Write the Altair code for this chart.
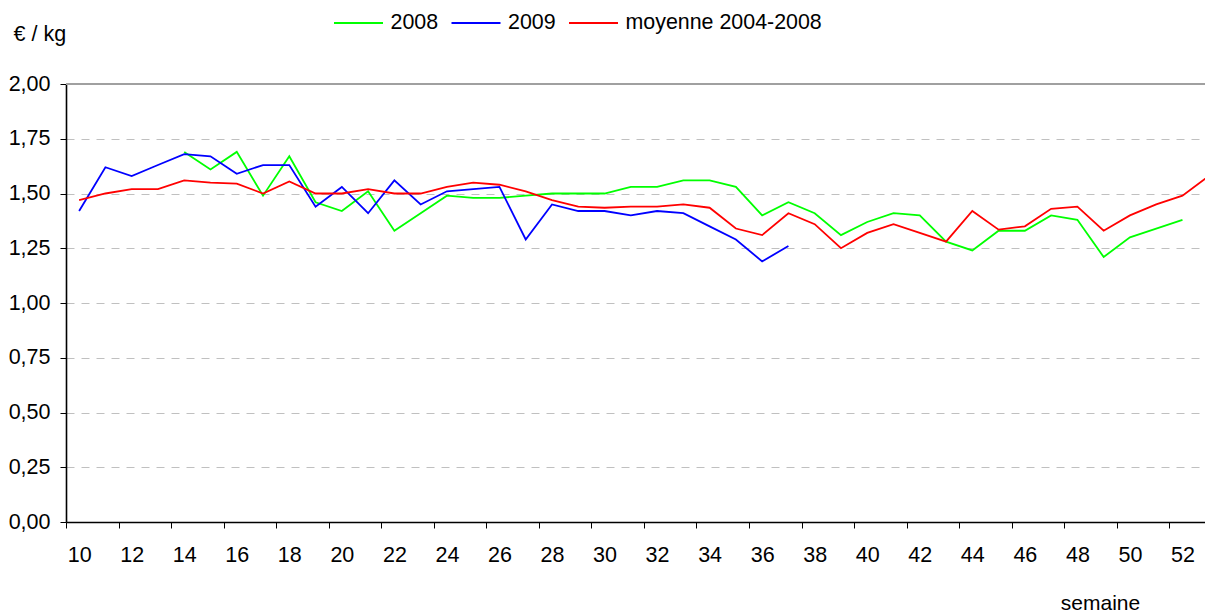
import altair as alt
import pandas as pd

# ---- data ----
weeks = list(range(10, 54))
v2008 = [None] * 4 + [
    1.69, 1.61, 1.69, 1.49, 1.67, 1.46, 1.42, 1.51, 1.33, 1.41,
    1.49, 1.48, 1.48, 1.49, 1.50, 1.50, 1.50, 1.53, 1.53, 1.56,
    1.56, 1.53, 1.40, 1.46, 1.41, 1.31, 1.37, 1.41, 1.40, 1.28,
    1.24, 1.33, 1.33, 1.40, 1.38, 1.21, 1.30, 1.34, 1.38,
] + [None]
v2009 = [
    1.42, 1.62, 1.58, 1.63, 1.68, 1.67, 1.59, 1.63, 1.63, 1.44,
    1.53, 1.41, 1.56, 1.45, 1.51, 1.52, 1.53, 1.29, 1.45, 1.42,
    1.42, 1.40, 1.42, 1.41, 1.35, 1.29, 1.19, 1.26,
] + [None] * 16
vmoy = [
    1.47, 1.50, 1.52, 1.52, 1.56, 1.55, 1.545, 1.50, 1.555, 1.50,
    1.50, 1.52, 1.50, 1.50, 1.53, 1.55, 1.54, 1.51, 1.47, 1.44,
    1.435, 1.44, 1.44, 1.45, 1.435, 1.34, 1.31, 1.41, 1.36, 1.25,
    1.32, 1.36, 1.32, 1.28, 1.42, 1.335, 1.35, 1.43, 1.44, 1.33,
    1.40, 1.45, 1.49, 1.58,
]
series_names = ["2008", "2009", "moyenne 2004-2008"]
series_colors = ["#00ff00", "#0000ff", "#ff0000"]
y_ticks = [0, 0.25, 0.5, 0.75, 1.0, 1.25, 1.5, 1.75, 2.0]
x_ticks = [9.5 + 2 * i for i in range(22)]
top_line = [2.0]

rows = []
for name, vals in zip(series_names, [v2008, v2009, vmoy]):
    for w, v in zip(weeks, vals):
        if v is not None:
            rows.append({"semaine": w, "prix": v, "serie": name})
df = pd.DataFrame(rows)

FONT = "Liberation Sans"
CAT = 26.27          # pixels per week
W = 1139
H = 438

x_scale = alt.Scale(domain=[9.5, 9.5 + W / CAT], nice=False, zero=False)
y_scale = alt.Scale(domain=[0, 2], nice=False, zero=True)

lines = alt.Chart(df).mark_line(strokeWidth=1.8, clip=False).encode(
    x=alt.X(
        "semaine:Q",
        scale=x_scale,
        axis=alt.Axis(
            values=x_ticks,
            labelExpr="toString(datum.value + 0.5)",
            labelOffset=CAT / 2,
            labelFlush=False,
            labelOverlap=False,
            labelBaseline="alphabetic",
            labelPadding=33,
            tickSize=6,
            tickColor="#000000",
            tickWidth=1,
            domainColor="#000000",
            domainWidth=1.4,
            grid=False,
            labelFont=FONT,
            labelFontSize=21.5,
            labelColor="#000000",
            title="semaine",
            titleFont=FONT,
            titleFontSize=21,
            titleFontWeight="normal",
            titleColor="#000000",
            titleX=1034,
            titleY=87,
            titleAlign="center",
            titleBaseline="alphabetic",
        ),
    ),
    y=alt.Y(
        "prix:Q",
        scale=y_scale,
        axis=alt.Axis(
            values=y_ticks,
            labelExpr="replace(format(datum.value, '.2f'), '.', ',')",
            labelFlush=False,
            labelOverlap=False,
            tickSize=6,
            tickColor="#000000",
            tickWidth=1,
            labelPadding=10,
            domainColor="#000000",
            domainWidth=1.6,
            grid=True,
            gridColor="#c0c0c0",
            gridDash=[8, 7],
            gridWidth=1,
            labelFont=FONT,
            labelFontSize=21.5,
            labelColor="#000000",
            labelBaseline="middle",
            title="€ / kg",
            titleFont=FONT,
            titleFontSize=21.5,
            titleFontWeight="normal",
            titleColor="#000000",
            titleAngle=0,
            titleX=-53,
            titleY=-44,
            titleAlign="left",
            titleBaseline="alphabetic",
        ),
    ),
    color=alt.Color(
        "serie:N",
        scale=alt.Scale(domain=series_names, range=series_colors),
        legend=alt.Legend(
            title=None,
            orient="none",
            direction="horizontal",
            legendX=267,
            legendY=-86.5,
            padding=0,
            symbolType="stroke",
            symbolSize=2401,
            symbolStrokeWidth=2,
            symbolOpacity=1,
            labelFont=FONT,
            labelFontSize=21.4,
            labelColor="#000000",
            labelOffset=6.5,
            labelLimit=400,
            columnPadding=8.5,
        ),
    ),
)

top = alt.Chart(pd.DataFrame({"v": top_line})).mark_rule(
    color="#a0a0a0", strokeWidth=2
).encode(y=alt.Y("v:Q", scale=y_scale, axis=None))

chart = alt.layer(lines, top).resolve_axis(y="independent").properties(
    width=W,
    height=H,
    padding={"left": 58, "top": 76, "right": 0, "bottom": 90},
    autosize=alt.AutoSizeParams(type="none"),
    background="#ffffff",
).configure_view(stroke=None)

chart.save("out.html", embed_options={"renderer": "svg", "actions": False})
